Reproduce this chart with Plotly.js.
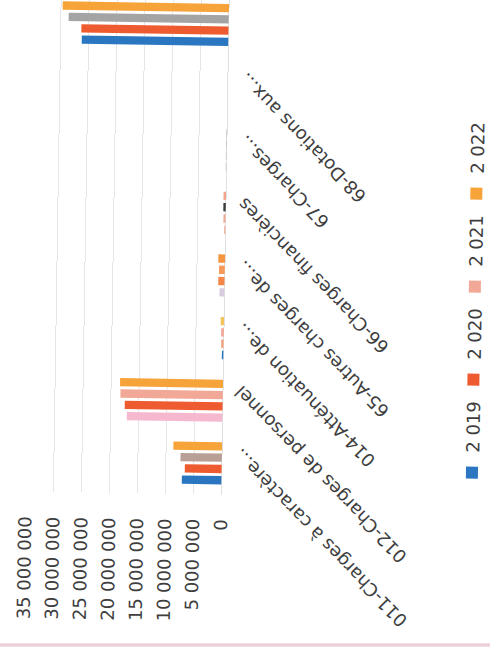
<!DOCTYPE html>
<html>
<head>
<meta charset="utf-8">
<script src="https://cdn.plot.ly/plotly-3.0.1.min.js"></script>
<style>
  html, body { margin: 0; padding: 0; background: #ffffff; }
  body { width: 490px; height: 654px; overflow: hidden; position: relative; }
  #sheet { position: absolute; left: 0; top: 0; width: 490px; height: 654px;
           transform-origin: 245px 327px; transform: rotate(0.9deg); }
  #chart { position: absolute; left: 0; top: 654px; width: 680px; height: 490px;
           transform-origin: 0 0; transform: rotate(-90deg); }
  #edge { position: absolute; left: 0; top: 643px; width: 490px; height: 4px;
          background: linear-gradient(#f3e4ea, #e9c9d4, #efe3e7); }
</style>
</head>
<body>
<div id="sheet"><div id="chart"></div></div>
<div id="edge"></div>
<script>
// Dépenses de fonctionnement par chapitre (en euros)
const categories = [
  "011-Charges à caractère...",
  "012-Charges de personnel",
  "014-Atténuation de...",
  "65-Autres charges de...",
  "66-Charges financières",
  "67-Charges...",
  "68-Dotations aux...",
  " "
];
const seriesNames = ["2 019", "2 020", "2 021", "2 022"];
const values2019 = [7100000, 17100000, 300000, 900000, 250000, 150000, 0, 26200000];
const values2020 = [6600000, 17500000, 450000, 1150000, 400000, 150000, 0, 26300000];
const values2021 = [7400000, 18300000, 500000, 1050000, 450000, 150000, 0, 28600000];
const values2022 = [8700000, 18400000, 600000, 1200000, 450000, 150000, 0, 29700000];
const valueTicks = [0, 5000000, 10000000, 15000000, 20000000, 25000000, 30000000, 35000000];

// series colours, with the per-bar tints of the printed page
const baseColors = ["#2a76c0", "#ef5b30", "#f2a896", "#f6a33a"];
const barColors = [
  ["#2a76c0", "#f5b8cf", "#2a76c0", "#d9cce0", "#f2b09c", "#cfc8c4", "#2a76c0", "#2a76c0"],
  ["#ef5b30", "#ef5b30", "#f2a07e", "#f5864a", "#f2a896", "#cbc4bf", "#ef5b30", "#ef5b30"],
  ["#b9a097", "#f2a896", "#f2a896", "#f59a58", "#3c3c3c", "#c9c2bc", "#f2a896", "#a4a4a4"],
  ["#f6a33a", "#f6a33a", "#f2c45a", "#f5953f", "#f3a48a", "#cfc8c2", "#f6a33a", "#f6a33a"]
];
const allValues = [values2019, values2020, values2021, values2022];

const textFont = { family: "DejaVu Sans", size: 18, color: "#3e3e3e" };

// bars
const barTraces = allValues.map((vals, i) => ({
  type: "bar",
  name: seriesNames[i],
  x: categories,
  y: vals,
  marker: { color: barColors[i], line: { width: 0 } },
  showlegend: false,
  hoverinfo: "skip"
}));

// legend entries in the plain series colour
const legendTraces = seriesNames.map((name, i) => ({
  type: "scatter",
  mode: "markers",
  name: name,
  x: [null],
  y: [null],
  marker: { symbol: "square", size: 12, color: baseColors[i] },
  showlegend: true,
  hoverinfo: "skip"
}));

const layout = {
  width: 680,
  height: 490,
  margin: { l: 159, r: 20, t: 28, b: 266, autoexpand: false },
  paper_bgcolor: "rgba(0,0,0,0)",
  plot_bgcolor: "rgba(0,0,0,0)",
  separators: ", ",
  barmode: "group",
  bargap: 0.28,
  bargroupgap: 0.26,
  font: textFont,
  showlegend: true,
  legend: {
    orientation: "h",
    xref: "container",
    yref: "container",
    x: 0.2425,
    xanchor: "left",
    y: 0.0316,
    yanchor: "middle",
    font: textFont,
    entrywidth: 48,
    entrywidthmode: "pixels",
    traceorder: "normal"
  },
  xaxis: {
    type: "category",
    categoryorder: "array",
    categoryarray: categories,
    tickangle: -45,
    tickfont: textFont,
    ticklabelshift: 10,
    ticklabelstandoff: 3,
    showline: false,
    showgrid: false,
    ticks: "",
    automargin: false
  },
  yaxis: {
    range: [0, 35000000],
    tickvals: valueTicks,
    tickformat: ",.0f",
    tickfont: textFont,
    showgrid: true,
    gridcolor: "#e6e6e6",
    gridwidth: 1,
    zeroline: true,
    zerolinecolor: "#e0e0e0",
    zerolinewidth: 1,
    showline: false,
    ticks: "outside",
    ticklen: 20,
    tickcolor: "rgba(0,0,0,0)",
    automargin: false
  }
};

Plotly.newPlot("chart", barTraces.concat(legendTraces), layout, { staticPlot: true, displayModeBar: false });
</script>
</body>
</html>
